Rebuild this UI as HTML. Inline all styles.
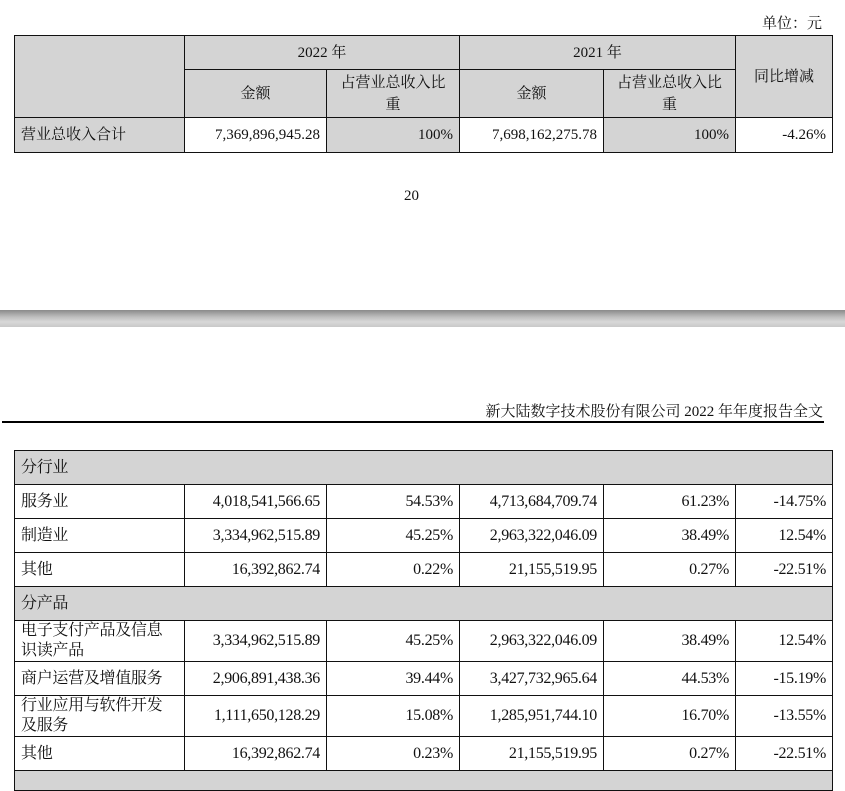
<!DOCTYPE html>
<html><head><meta charset="utf-8"><style>
body{margin:0;width:845px;height:773px;background:#fff;position:relative;overflow:hidden;font-family:"Liberation Serif","Noto Serif CJK SC",serif;font-size:15px;color:#111}
.a{position:absolute}
table{position:absolute;border-collapse:collapse;table-layout:fixed}
td{border:1.5px solid #111;padding:0 6px;line-height:22px;box-sizing:border-box}
.g{background:#d4d4d4}
.r{text-align:right}
.c{text-align:center}
.n{font-size:16px;letter-spacing:-0.3px}
.n td{line-height:24px}
</style></head><body>
<div class="a" style="right:23px;top:12px">单位：元</div>
<table style="left:14px;top:35px;width:818px">
<colgroup><col style="width:170px"><col style="width:142px"><col style="width:133px"><col style="width:144px"><col style="width:132px"><col style="width:97px"></colgroup>
<tr style="height:34px"><td class="g" rowspan="2"></td><td class="g c" colspan="2">2022 年</td><td class="g c" colspan="2">2021 年</td><td class="g c" rowspan="2">同比增减</td></tr>
<tr style="height:48px"><td class="g c">金额</td><td class="g c">占营业总收入比<br>重</td><td class="g c">金额</td><td class="g c">占营业总收入比<br>重</td></tr>
<tr style="height:35px"><td class="g">营业总收入合计</td><td class="r">7,369,896,945.28</td><td class="g r">100%</td><td class="r">7,698,162,275.78</td><td class="g r">100%</td><td class="r">-4.26%</td></tr>
</table>
<div class="a" style="left:404px;top:188px">20</div>
<div class="a" style="left:0;top:310px;width:845px;height:17px;background:linear-gradient(#8a8a8a,#bdbdbd 40%,#d8d8d8 70%,#c8c8c8)"></div>
<div class="a" style="right:22px;top:400px;font-size:15px">新大陆数字技术股份有限公司 2022 年年度报告全文</div>
<div class="a" style="left:2px;top:421px;width:822px;height:2px;background:#000"></div>
<table class="n" style="left:14px;top:450px;width:818px">
<colgroup><col style="width:170px"><col style="width:142px"><col style="width:133px"><col style="width:144px"><col style="width:132px"><col style="width:97px"></colgroup>
<tr style="height:34px"><td class="g" colspan="6">分行业</td></tr>
<tr style="height:34px"><td>服务业</td><td class="r">4,018,541,566.65</td><td class="r">54.53%</td><td class="r">4,713,684,709.74</td><td class="r">61.23%</td><td class="r">-14.75%</td></tr>
<tr style="height:34px"><td>制造业</td><td class="r">3,334,962,515.89</td><td class="r">45.25%</td><td class="r">2,963,322,046.09</td><td class="r">38.49%</td><td class="r">12.54%</td></tr>
<tr style="height:34px"><td>其他</td><td class="r">16,392,862.74</td><td class="r">0.22%</td><td class="r">21,155,519.95</td><td class="r">0.27%</td><td class="r">-22.51%</td></tr>
<tr style="height:34px"><td class="g" colspan="6">分产品</td></tr>
<tr style="height:41px"><td style="line-height:20px">电子支付产品及信息<br>识读产品</td><td class="r">3,334,962,515.89</td><td class="r">45.25%</td><td class="r">2,963,322,046.09</td><td class="r">38.49%</td><td class="r">12.54%</td></tr>
<tr style="height:34px"><td>商户运营及增值服务</td><td class="r">2,906,891,438.36</td><td class="r">39.44%</td><td class="r">3,427,732,965.64</td><td class="r">44.53%</td><td class="r">-15.19%</td></tr>
<tr style="height:41px"><td style="line-height:20px">行业应用与软件开发<br>及服务</td><td class="r">1,111,650,128.29</td><td class="r">15.08%</td><td class="r">1,285,951,744.10</td><td class="r">16.70%</td><td class="r">-13.55%</td></tr>
<tr style="height:34px"><td>其他</td><td class="r">16,392,862.74</td><td class="r">0.23%</td><td class="r">21,155,519.95</td><td class="r">0.27%</td><td class="r">-22.51%</td></tr>
<tr style="height:20px"><td class="g" colspan="6"></td></tr>
</table>
</body></html>
